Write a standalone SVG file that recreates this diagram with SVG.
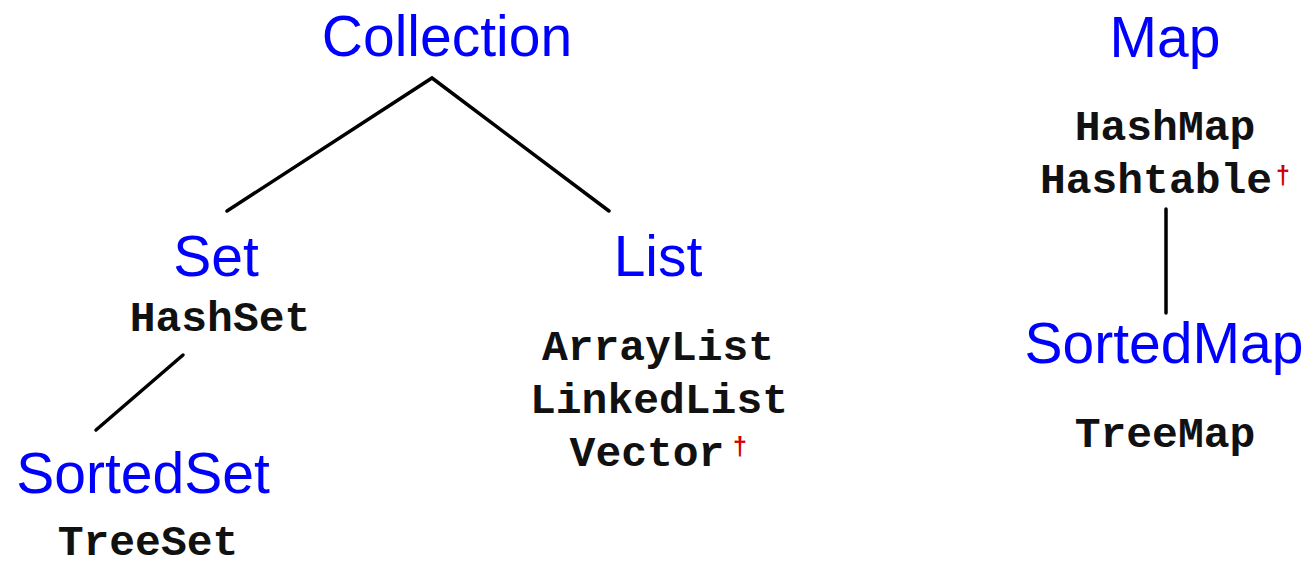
<svg xmlns="http://www.w3.org/2000/svg" width="1313" height="568" viewBox="0 0 1313 568">
<style>
.iface{font-family:"Liberation Sans",Arial,sans-serif;font-size:57px;fill:#0000ff;text-anchor:middle}
.impl{font-family:"Liberation Mono","Courier New",monospace;font-size:43px;font-weight:bold;fill:#111;text-anchor:middle}
.dag{font-family:"Liberation Sans",Arial,sans-serif;font-size:25px;font-weight:bold;fill:#d00000}
.edge{stroke:#000;stroke-width:3.5;fill:none;stroke-linecap:round}
</style>
<rect width="1313" height="568" fill="#fff"/>
<g id="connectors">
<polyline class="edge" points="227,211 432,78 609,211"/>
<line class="edge" x1="183" y1="355" x2="96" y2="430"/>
<line class="edge" x1="1166" y1="209" x2="1166" y2="313"/>
</g>
<g id="collection"><text class="iface" x="447" y="56">Collection</text></g>
<g id="set"><text class="iface" x="216" y="276">Set</text><text class="impl" x="220" y="331">HashSet</text></g>
<g id="sortedset"><text class="iface" x="143" y="493">SortedSet</text><text class="impl" x="148" y="555">TreeSet</text></g>
<g id="list"><text class="iface" x="658" y="276">List</text>
<text class="impl" x="658" y="360">ArrayList</text>
<text class="impl" x="659" y="413">LinkedList</text>
<text class="impl" x="647" y="466">Vector</text><text class="dag" x="733" y="455">†</text></g>
<g id="map"><text class="iface" x="1165" y="57">Map</text>
<text class="impl" x="1165" y="140">HashMap</text>
<text class="impl" x="1156" y="193">Hashtable</text><text class="dag" x="1276" y="184">†</text></g>
<g id="sortedmap"><text class="iface" x="1164" y="363">SortedMap</text><text class="impl" x="1165" y="447">TreeMap</text></g>
</svg>
